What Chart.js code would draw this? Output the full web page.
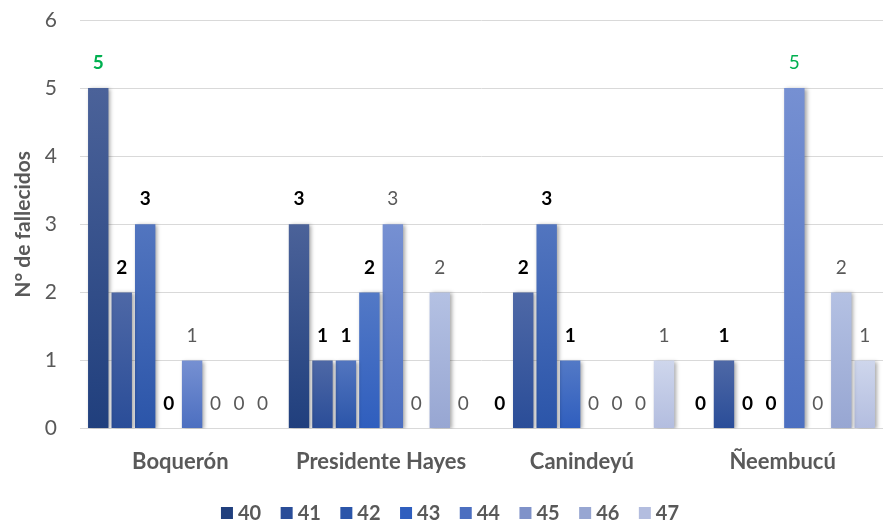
<!DOCTYPE html>
<html>
<head>
<meta charset="utf-8">
<script src="https://cdn.jsdelivr.net/npm/chart.js@4.4.1/dist/chart.umd.min.js"></script>
<style>
  html, body { margin: 0; padding: 0; background: #fff; }
  #wrap { width: 883px; height: 522px; }
</style>
</head>
<body>
<div id="wrap"><canvas id="grafico" width="883" height="522"></canvas></div>
<script>
// Datos
const departamentos = ["Boquerón", "Presidente Hayes", "Canindeyú", "Ñeembucú"];
const semanas = ["40", "41", "42", "43", "44", "45", "46", "47"];
const s40 = [5, 3, 0, 0];
const s41 = [2, 1, 2, 1];
const s42 = [3, 1, 3, 0];
const s43 = [0, 2, 1, 0];
const s44 = [1, 3, 0, 5];
const s45 = [0, 0, 0, 0];
const s46 = [0, 2, 0, 2];
const s47 = [0, 0, 1, 1];
const yTicks = [0, 1, 2, 3, 4, 5, 6];

const series = [s40, s41, s42, s43, s44, s45, s46, s47];

// colores (arriba / abajo del degradado)
const coloresTop = ["#4B6299", "#4E68A6", "#5275BF", "#5379C6", "#7690D2", "#97A8DA", "#B4C1E3", "#CED6EC"];
const coloresBot = ["#203F7D", "#2A4D98", "#2B55A9", "#2F5EBE", "#4C6FC0", "#7F92C9", "#97A6D2", "#B3BDDF"];
const fuente = "Lato, 'Open Sans', sans-serif";
const gris = "#595959";

function degradado(i) {
  return (ctx) => {
    const chart = ctx.chart;
    const area = chart.chartArea;
    if (!area || ctx.type !== "data") return coloresBot[i];
    const y = chart.scales.y;
    const top = y.getPixelForValue(ctx.raw || 0);
    const bot = y.getPixelForValue(0);
    if (bot - top < 1) return coloresBot[i];
    const g = chart.ctx.createLinearGradient(0, top, 0, bot);
    g.addColorStop(0, coloresTop[i]);
    g.addColorStop(1, coloresBot[i]);
    return g;
  };
}

// sombra de las barras
const sombra = {
  id: "sombra",
  beforeDatasetsDraw(chart) {
    const c = chart.ctx;
    c.save();
    c.shadowColor = "rgba(0,0,0,0.35)";
    c.shadowBlur = 4;
    c.shadowOffsetX = 2;
    c.shadowOffsetY = 1;
  },
  afterDatasetsDraw(chart) {
    chart.ctx.restore();
  }
};

// etiquetas de valor
const etiquetas = {
  id: "etiquetas",
  afterDatasetsDraw(chart) {
    const c = chart.ctx;
    c.save();
    c.textAlign = "center";
    c.textBaseline = "middle";
    chart.data.datasets.forEach((ds, i) => {
      const meta = chart.getDatasetMeta(i);
      meta.data.forEach((bar, j) => {
        const v = ds.data[j];
        const negrita = i < 4;
        let color = negrita ? "#000000" : gris;
        if (v === 5) color = "#00B050";
        c.font = (negrita ? "bold " : "") + "19px " + fuente;
        c.fillStyle = color;
        c.fillText(String(v), bar.x, bar.y - 25);
      });
    });
    c.restore();
  }
};

// leyenda abajo (estilo Excel)
const leyenda = {
  id: "leyenda",
  afterDraw(chart) {
    const c = chart.ctx;
    const caja = 12, sep = 5, hueco = 19.5;
    const yMedio = 513;
    c.save();
    c.font = "bold 20px " + fuente;
    c.textBaseline = "middle";
    const items = chart.data.datasets.map((ds, i) => ({ txt: ds.label, w: c.measureText(ds.label).width, i }));
    const total = items.reduce((s, it) => s + caja + sep + it.w, 0) + hueco * (items.length - 1);
    let x = 450 - total / 2;
    items.forEach(it => {
      c.fillStyle = coloresBot[it.i];
      c.fillRect(x, yMedio - caja / 2, caja, caja);
      x += caja + sep;
      c.fillStyle = gris;
      c.fillText(it.txt, x, yMedio + 1);
      x += it.w + hueco;
    });
    c.restore();
  }
};

const ctx = document.getElementById("grafico").getContext("2d");
new Chart(ctx, {
  type: "bar",
  data: {
    labels: departamentos,
    datasets: semanas.map((s, i) => ({
      label: s,
      data: series[i],
      backgroundColor: degradado(i),
      borderWidth: 0,
      categoryPercentage: 0.935,
      barPercentage: 0.87
    }))
  },
  options: {
    responsive: false,
    animation: false,
    layout: { padding: { top: 20, right: -4, left: 11, bottom: 35 } },
    plugins: {
      tooltip: { enabled: false },
      legend: { display: false }
    },
    scales: {
      x: {
        grid: { display: false },
        border: { color: "#D9D9D9", width: 1 },
        ticks: { color: gris, font: { family: fuente, size: 22, weight: "bold" }, padding: 12 }
      },
      y: {
        min: yTicks[0],
        max: yTicks[yTicks.length - 1],
        afterBuildTicks(axis) { axis.ticks = yTicks.map(v => ({ value: v })); },
        afterFit(scale) {
          scale.width = 69;
          scale.paddingTop = 0;
          scale.paddingBottom = 0;
        },
        grid: { color: "#D9D9D9", drawTicks: false },
        border: { display: false },
        ticks: { color: gris, font: { family: fuente, size: 21 }, padding: 23 },
        title: {
          display: true,
          text: "N° de fallecidos",
          color: gris,
          font: { family: fuente, size: 21, weight: "bold" },
          padding: { top: 0, bottom: 9 }
        }
      }
    }
  },
  plugins: [sombra, etiquetas, leyenda]
});
</script>
</body>
</html>
